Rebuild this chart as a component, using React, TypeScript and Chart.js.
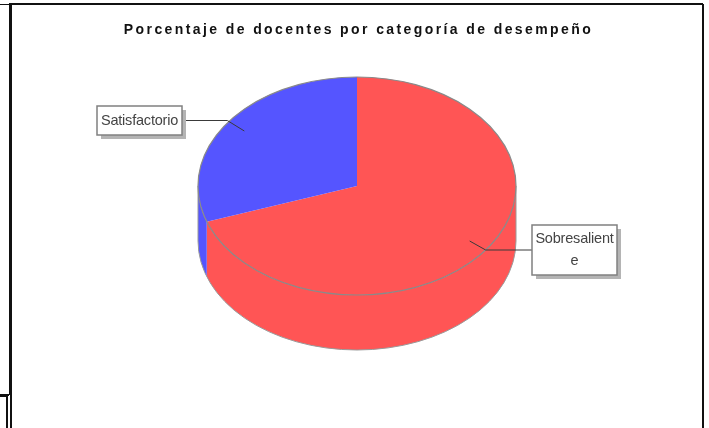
import React, { useEffect, useRef } from "react";
import { Chart, registerables } from "chart.js";

Chart.register(...registerables);

const categories = ["Sobresaliente", "Satisfactorio"];
const labelLines = [["Sobresalient", "e"], ["Satisfactorio"]];
const values = [69.7, 30.3];
const colors = ["#FF5555", "#5555FF"];
const titleText = "Porcentaje de docentes por categoría de desempeño";

const CX = 357;
const CY = 186;
const RY = 109;
const DEPTH = 55;
const labelBoxes = [
  { x: 532, y: 225, w: 85, h: 50, elbow: 16 },
  { x: 97, y: 106, w: 85, h: 29, elbow: -17 },
];

const pie3d = {
  id: "pie3d",
  beforeDraw(chart: any) {
    chart.ctx.letterSpacing = "2.4px";
  },
  beforeDatasetsDraw(chart: any) {
    const ctx = chart.ctx;
    ctx.letterSpacing = "0px";
    const arcs = chart.getDatasetMeta(0).data;
    const r = arcs[0].outerRadius;
    ctx.save();
    arcs.forEach((a: any, i: number) => {
      const s = Math.max(a.startAngle, 0);
      const e = Math.min(a.endAngle, Math.PI);
      if (e <= s) return;
      ctx.beginPath();
      ctx.ellipse(CX, CY, r, RY, 0, s, e);
      ctx.ellipse(CX, CY + DEPTH, r, RY, 0, e, s, true);
      ctx.closePath();
      ctx.fillStyle = colors[i];
      ctx.fill();
    });
    ctx.beginPath();
    ctx.moveTo(CX + r, CY);
    ctx.lineTo(CX + r, CY + DEPTH);
    ctx.ellipse(CX, CY + DEPTH, r, RY, 0, 0, Math.PI);
    ctx.lineTo(CX - r, CY);
    ctx.strokeStyle = "#9a9a9a";
    ctx.lineWidth = 1;
    ctx.stroke();
    ctx.restore();
    ctx.save();
    ctx.translate(CX, CY);
    ctx.scale(1, RY / r);
    ctx.translate(-arcs[0].x, -arcs[0].y);
  },
  afterDatasetsDraw(chart: any) {
    const ctx = chart.ctx;
    ctx.restore();
    const arcs = chart.getDatasetMeta(0).data;
    const r = arcs[0].outerRadius;
    ctx.save();
    ctx.beginPath();
    ctx.ellipse(CX, CY, r, RY, 0, 0, Math.PI * 2);
    ctx.strokeStyle = "#8a8a8a";
    ctx.lineWidth = 1.2;
    ctx.stroke();

    arcs.forEach((a: any, i: number) => {
      const box = labelBoxes[i];
      const mid = (a.startAngle + a.endAngle) / 2;
      const ax = CX + Math.cos(mid) * r * 0.87;
      const ay = CY + Math.sin(mid) * RY * 0.87;
      const my = box.y + box.h / 2;
      const ex = ax + box.elbow;
      const bx = box.elbow > 0 ? box.x : box.x + box.w;
      ctx.beginPath();
      ctx.moveTo(ax, ay);
      ctx.lineTo(ex, my);
      ctx.lineTo(bx, my);
      ctx.strokeStyle = "#3a3a3a";
      ctx.lineWidth = 1;
      ctx.stroke();

      ctx.fillStyle = "#b4b4b4";
      ctx.fillRect(box.x + 4, box.y + 4, box.w, box.h);
      ctx.fillStyle = "#ffffff";
      ctx.fillRect(box.x, box.y, box.w, box.h);
      ctx.strokeStyle = "#808080";
      ctx.lineWidth = 1.5;
      ctx.strokeRect(box.x, box.y, box.w, box.h);

      const lines = labelLines[i];
      ctx.fillStyle = "#444444";
      ctx.font = "14.5px 'Liberation Sans'";
      ctx.letterSpacing = "-0.2px";
      ctx.textAlign = "center";
      ctx.textBaseline = "middle";
      lines.forEach((t: string, k: number) => {
        ctx.fillText(t, box.x + box.w / 2, my + (k - (lines.length - 1) / 2) * 22);
      });
    });
    ctx.restore();
  },
};

const line = (s: React.CSSProperties) => (
  <div style={{ position: "fixed", background: "#111", ...s }} />
);

export default function App() {
  const ref = useRef<HTMLCanvasElement>(null);
  useEffect(() => {
    const chart = new Chart(ref.current!, {
      type: "pie",
      data: {
        labels: categories,
        datasets: [{ data: values, backgroundColor: colors, borderWidth: 0, clip: false } as any],
      },
      plugins: [pie3d],
      options: {
        animation: false,
        responsive: false,
        layout: { padding: { left: 8, right: 0, top: 0, bottom: 51 } },
        plugins: {
          legend: { display: false },
          tooltip: { enabled: false },
          title: {
            display: true,
            text: titleText,
            color: "#111111",
            font: { family: "'Liberation Sans'", size: 14, weight: "bold", lineHeight: 1.2 },
            padding: { top: 22, bottom: 20.2 },
          },
        },
      },
    } as any);
    return () => chart.destroy();
  }, []);
  return (
    <div>
      <canvas
        ref={ref}
        width={709}
        height={428}
        style={{ position: "fixed", left: 0, top: 0, width: 709, height: 428, filter: "blur(0.5px)" }}
      />
      {line({ left: 9, top: 3, width: 694, height: 2 })}
      {line({ left: 0, top: 4, width: 9, height: 1 })}
      {line({ left: 9, top: 3, width: 3, height: 392 })}
      {line({ left: 702, top: 4, width: 2, height: 424 })}
      {line({ left: 0, top: 394, width: 9, height: 2 })}
      {line({ left: 0, top: 396, width: 7, height: 1 })}
      {line({ left: 6, top: 396, width: 2, height: 32 })}
      {line({ left: 10, top: 395, width: 2, height: 33 })}
    </div>
  );
}
